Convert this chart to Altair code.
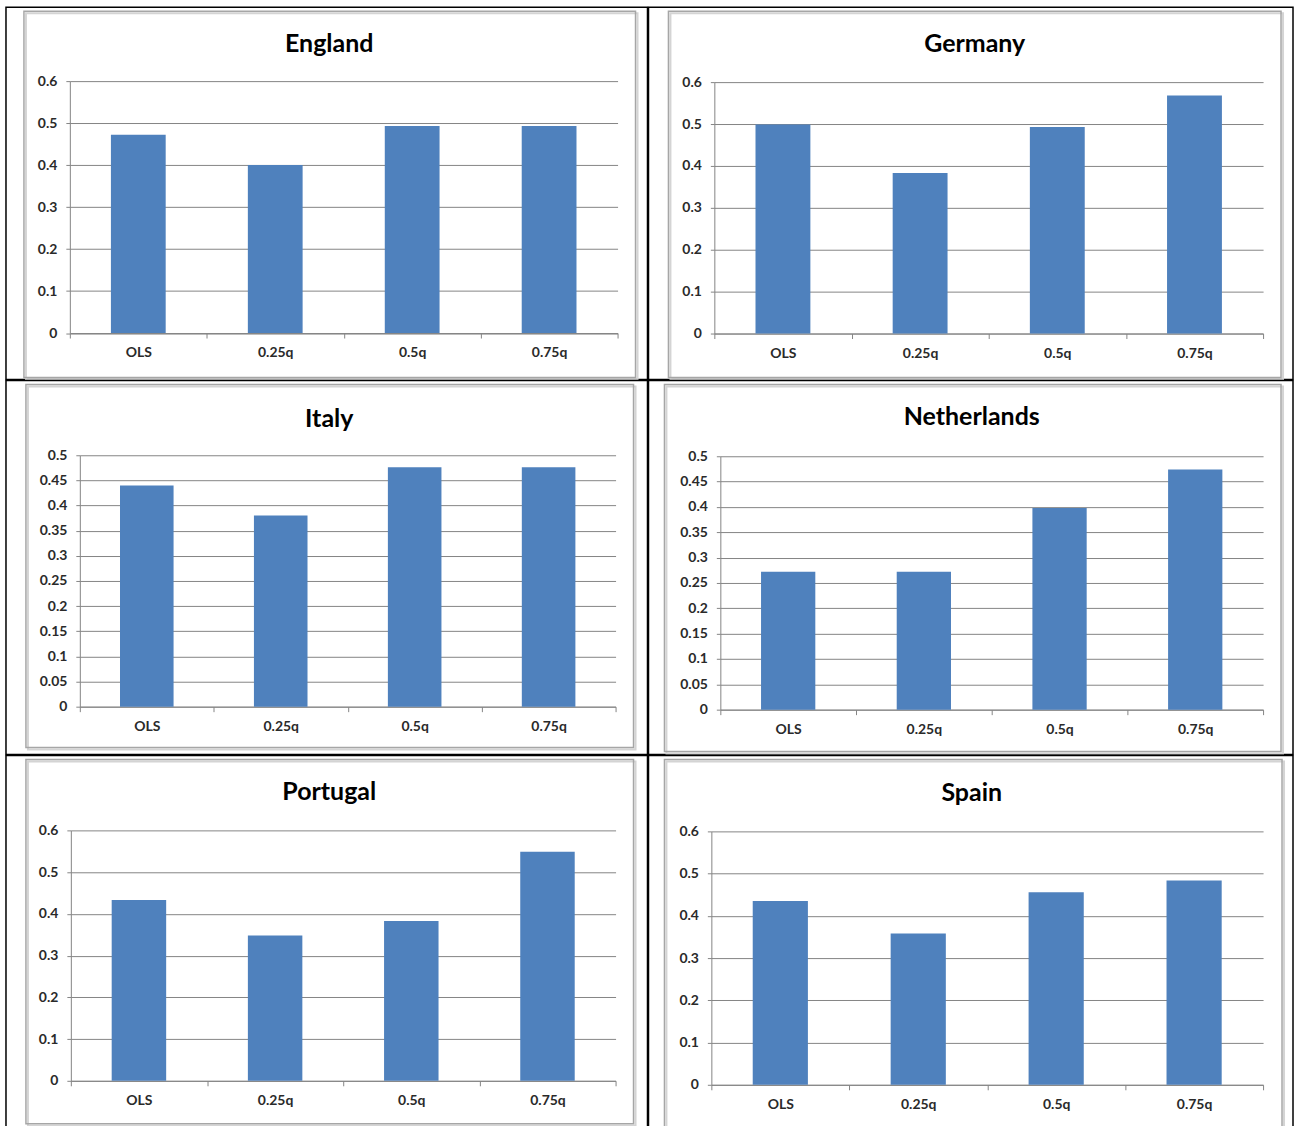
import altair as alt
import pandas as pd

categories = ["OLS", "0.25q", "0.5q", "0.75q"]
england = [0.472, 0.400, 0.493, 0.493]
germany = [0.499, 0.383, 0.493, 0.568]
italy = [0.440, 0.380, 0.476, 0.476]
netherlands = [0.272, 0.272, 0.398, 0.474]
portugal = [0.433, 0.348, 0.383, 0.549]
spain = [0.435, 0.358, 0.456, 0.484]

ticks_06 = [0, 0.1, 0.2, 0.3, 0.4, 0.5, 0.6]
ticks_05 = [0, 0.05, 0.1, 0.15, 0.2, 0.25, 0.3, 0.35, 0.4, 0.45, 0.5]

BLUE = "#4F81BD"
GRAY = "#858585"
FONT = "Lato"


def panel(name, values, ymax, yticks, cell_w, cell_h, plot, frame, tpos):
    left, right, top, bottom = plot
    df = pd.DataFrame({"category": categories, "value": values})
    label_style = dict(labelFont=FONT, labelFontSize=14, labelFontWeight="bold", labelColor="#2a2a2a")
    bars = alt.Chart(df).mark_bar(color=BLUE, width=alt.RelativeBandSize(0.4)).encode(
        x=alt.X(
            "category:N",
            sort=categories,
            title=None,
            scale=alt.Scale(paddingInner=0, paddingOuter=0, range=[left, right]),
            axis=alt.Axis(
                labelAngle=0, tickBand="extent", grid=False, offset=-(cell_h - bottom),
                domainColor=GRAY, tickColor=GRAY, tickSize=5, labelPadding=8,
                **label_style,
            ),
        ),
        y=alt.Y(
            "value:Q",
            title=None,
            scale=alt.Scale(domain=[0, ymax], nice=False, range=[bottom, top]),
            axis=alt.Axis(
                values=yticks, format="~g", grid=True, gridColor=GRAY, offset=-left,
                domainColor=GRAY, tickColor=GRAY, tickSize=4, labelPadding=9,
                **label_style,
            ),
        ),
    )
    deco = alt.Chart(pd.DataFrame({"k": [0]}))
    cell_rect = deco.mark_rect(fill="transparent", stroke="black", strokeWidth=1.5).encode(
        x=alt.value(0), x2=alt.value(cell_w), y=alt.value(0), y2=alt.value(cell_h)
    )
    shadow = deco.mark_rect(fill="transparent", stroke="#D4D4D4", strokeWidth=2).encode(
        x=alt.value(frame[0] + 2), x2=alt.value(frame[1] + 2),
        y=alt.value(frame[2] + 2), y2=alt.value(frame[3] + 2)
    )
    frame_rect = deco.mark_rect(fill="transparent", stroke="#A6A6A6", strokeWidth=1.5).encode(
        x=alt.value(frame[0]), x2=alt.value(frame[1]), y=alt.value(frame[2]), y2=alt.value(frame[3])
    )
    title = deco.mark_text(
        text=name, font=FONT, fontSize=25, fontWeight="bold", color="black",
        align="center", baseline="alphabetic",
    ).encode(x=alt.value(tpos[0]), y=alt.value(tpos[1]))
    return alt.layer(cell_rect, shadow, frame_rect, bars, title).properties(
        width=cell_w, height=cell_h
    )


p_eng = panel("England", england, 0.6, ticks_06, 643, 373,
              (64, 613, 74, 326.5), (18, 631, 4, 371), (324, 45))
p_ger = panel("Germany", germany, 0.6, ticks_06, 646, 373,
              (66, 616, 75, 327), (20, 634, 4, 371), (327, 45))
p_ita = panel("Italy", italy, 0.5, ticks_05, 643, 375,
              (74, 611, 75, 327), (20, 629, 4, 368), (324, 47))
p_ned = panel("Netherlands", netherlands, 0.5, ticks_05, 646, 375,
              (72, 616, 76, 330), (16, 634, 4, 372), (324, 45))
p_por = panel("Portugal", portugal, 0.6, ticks_06, 643, 375,
              (65, 611, 75, 326), (20, 629, 4, 369), (324, 45))
p_spa = panel("Spain", spain, 0.6, ticks_06, 646, 375,
              (63, 616, 76, 330), (16, 635, 4, 373), (324, 46))

chart = alt.concat(
    p_eng, p_ger, p_ita, p_ned, p_por, p_spa, columns=2, spacing=-2, align="each"
).configure_view(stroke=None).properties(
    padding={"left": 5, "top": 5, "right": 0, "bottom": 0}, background="white"
)

chart.save("out.html", embed_options={"renderer": "svg", "actions": False})
